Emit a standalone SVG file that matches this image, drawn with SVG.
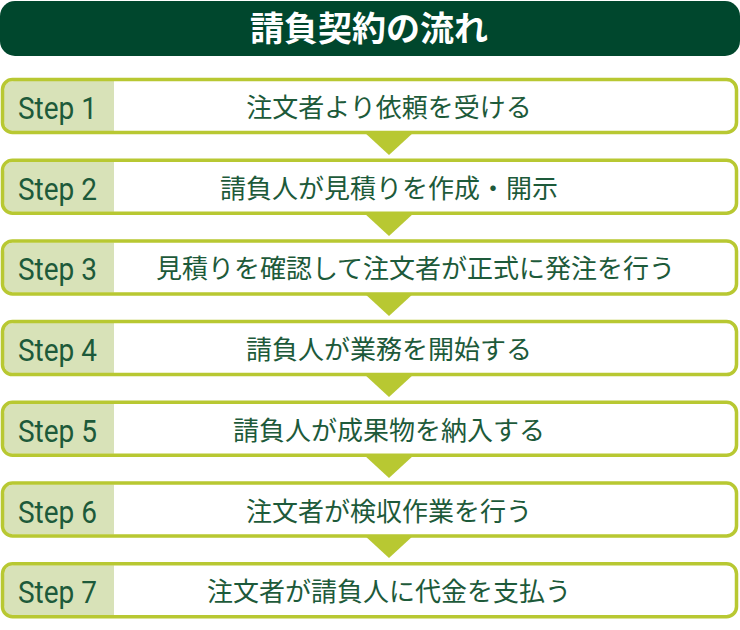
<svg xmlns="http://www.w3.org/2000/svg" width="740" height="630" viewBox="0 0 740 630">
<style>
.title{font-family:"Noto Sans CJK JP","Noto Sans CJK SC",sans-serif;font-size:34px;font-weight:bold;fill:#ffffff;text-anchor:middle}
.box{fill:#ffffff;stroke:none}
.frame{fill:none;stroke:#b8c832;stroke-width:3.5}
.lab{fill:#d8e2b8}
.st{font-family:"Roboto","Liberation Sans",sans-serif;font-size:32px;font-weight:400;fill:#1d5a3a}
.tx{font-family:"Noto Sans CJK JP","Noto Sans CJK SC",sans-serif;font-size:26px;fill:#1d5a3a;text-anchor:middle}
.tri{fill:#b8c832}
</style>
<defs>
<g id="card">
<rect class="box" x="2.5" y="1.5" width="734" height="53" rx="10"/>
<path class="lab" d="M114,3 L14,3 Q4,3 4,13 L4,43 Q4,53 14,53 L114,53 Z"/>
<rect class="frame" x="2.5" y="1.5" width="734" height="53" rx="10"/>
</g>
</defs>
<rect width="740" height="630" fill="#ffffff"/>
<g id="title">
<rect x="0" y="1" width="740" height="55" rx="15" fill="#00472d"/>
<text class="title" x="369" y="41">請負契約の流れ</text>
</g>
<g id="connectors">
<polygon class="tri" points="364,132 414,132 389,155"/>
<polygon class="tri" points="364,213 414,213 389,236"/>
<polygon class="tri" points="364,293 414,293 389,316"/>
<polygon class="tri" points="364,374 414,374 389,397"/>
<polygon class="tri" points="364,455 414,455 389,478"/>
<polygon class="tri" points="364,535 414,535 389,558"/>
</g>
<g id="step1" transform="translate(0,78)">
<use href="#card"/>
<text class="st" x="18" y="41" textLength="79" lengthAdjust="spacingAndGlyphs">Step 1</text>
<text class="tx" x="389" y="39">注文者より依頼を受ける</text>
</g>
<g id="step2" transform="translate(0,158.7)">
<use href="#card"/>
<text class="st" x="18" y="41" textLength="79" lengthAdjust="spacingAndGlyphs">Step 2</text>
<text class="tx" x="389" y="39">請負人が見積りを作成・開示</text>
</g>
<g id="step3" transform="translate(0,239.4)">
<use href="#card"/>
<text class="st" x="18" y="41" textLength="79" lengthAdjust="spacingAndGlyphs">Step 3</text>
<text class="tx" x="415.5" y="39">見積りを確認して注文者が正式に発注を行う</text>
</g>
<g id="step4" transform="translate(0,320.1)">
<use href="#card"/>
<text class="st" x="18" y="41" textLength="79" lengthAdjust="spacingAndGlyphs">Step 4</text>
<text class="tx" x="389" y="39">請負人が業務を開始する</text>
</g>
<g id="step5" transform="translate(0,400.8)">
<use href="#card"/>
<text class="st" x="18" y="41" textLength="79" lengthAdjust="spacingAndGlyphs">Step 5</text>
<text class="tx" x="389" y="39">請負人が成果物を納入する</text>
</g>
<g id="step6" transform="translate(0,481.5)">
<use href="#card"/>
<text class="st" x="18" y="41" textLength="79" lengthAdjust="spacingAndGlyphs">Step 6</text>
<text class="tx" x="389" y="39">注文者が検収作業を行う</text>
</g>
<g id="step7" transform="translate(0,562.2)">
<use href="#card"/>
<text class="st" x="18" y="41" textLength="79" lengthAdjust="spacingAndGlyphs">Step 7</text>
<text class="tx" x="389" y="39">注文者が請負人に代金を支払う</text>
</g>
</svg>
